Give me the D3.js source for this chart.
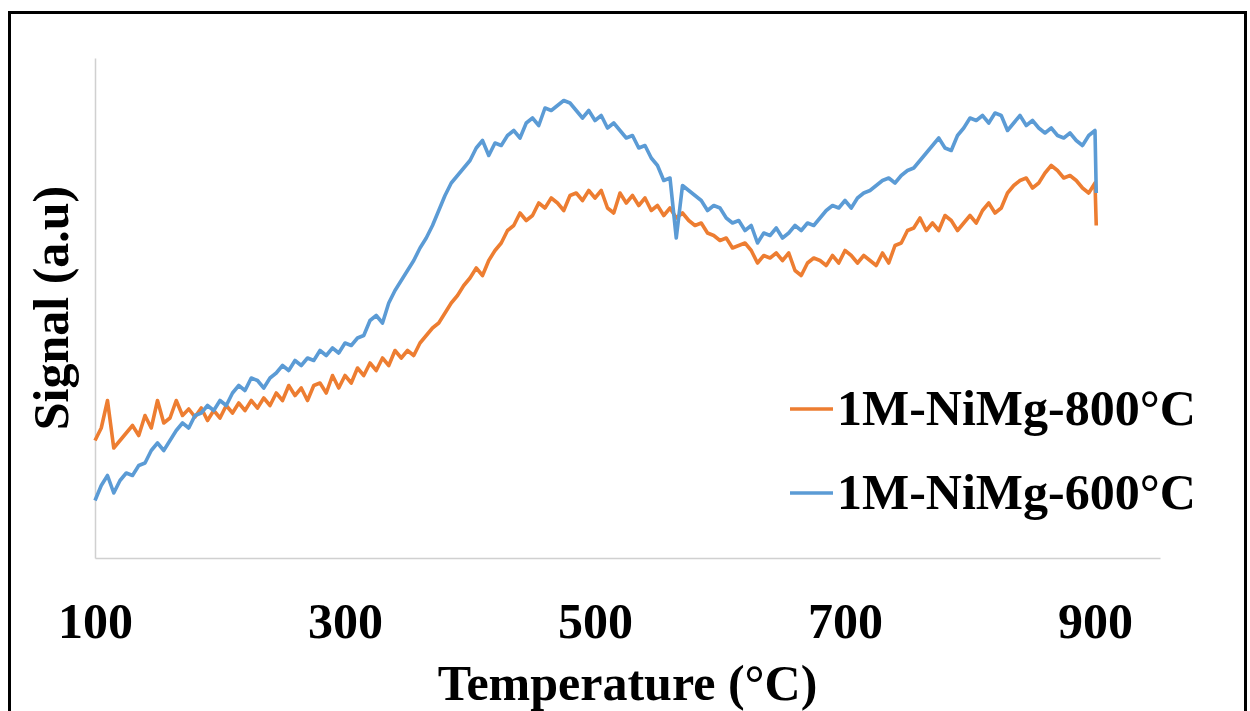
<!DOCTYPE html>
<html>
<head>
<meta charset="utf-8">
<script src="https://cdn.jsdelivr.net/npm/d3@7"></script>
<style>
  html, body { margin: 0; padding: 0; background: #fff; }
  svg { display: block; }
  text { font-family: "Liberation Serif", "Times New Roman", serif; font-weight: bold; fill: #000; }
</style>
</head>
<body>
<svg id="chart" width="1250" height="711"></svg>
<script>
// TPR profiles, signal in arbitrary units, sampled every 5 °C (last point is the end-of-run drop)
const temps = d3.range(100, 901, 5).concat([901]);

const signal800 = [
  23.5, 26.0, 31.5, 22.0, 23.5, 25.0, 26.5, 24.5, 28.5, 26.0,
  31.5, 27.0, 28.0, 31.5, 28.5, 29.8, 28.2, 30.0, 27.5, 29.5,
  28.0, 30.5, 29.0, 31.0, 29.5, 31.5, 30.0, 32.0, 30.5, 33.0,
  31.5, 34.5, 32.5, 34.0, 31.5, 34.5, 35.0, 33.0, 36.5, 34.0,
  36.5, 35.0, 38.0, 36.5, 39.0, 37.5, 40.0, 38.5, 41.5, 40.0,
  41.5, 40.5, 43.0, 44.5, 46.0, 47.0, 49.0, 51.0, 52.5, 54.5,
  56.0, 58.0, 56.5, 59.5, 61.5, 63.0, 65.5, 66.5, 69.0, 67.5,
  68.5, 71.0, 70.0, 72.0, 71.0, 69.5, 72.5, 73.0, 71.5, 73.5,
  72.0, 73.5, 70.0, 69.0, 73.0, 71.0, 72.5, 70.5, 72.0, 69.5,
  70.5, 68.5, 70.0, 68.0, 69.0, 67.5, 66.5, 67.0, 65.0, 64.5,
  63.5, 64.0, 62.0, 62.5, 63.0, 61.5, 59.0, 60.5, 60.0, 61.0,
  59.5, 61.0, 57.5, 56.5, 59.0, 60.0, 59.5, 58.5, 60.5, 59.0,
  61.5, 60.5, 59.0, 60.5, 59.5, 58.5, 61.0, 59.0, 62.5, 63.0,
  65.5, 66.0, 68.0, 65.5, 67.0, 65.5, 68.5, 67.5, 65.5, 67.0,
  68.5, 67.0, 69.5, 71.0, 69.0, 70.0, 73.0, 74.5, 75.5, 76.0,
  74.0, 75.0, 77.0, 78.5, 77.5, 76.0, 76.5, 75.5, 74.0, 73.0,
  75.0, 66.5
];

const signal600 = [
  11.5, 14.5, 16.5, 13.0, 15.5, 17.0, 16.5, 18.5, 19.0, 21.5,
  23.0, 21.5, 23.5, 25.5, 27.0, 26.0, 28.5, 29.0, 30.5, 29.5,
  31.5, 30.5, 33.0, 34.5, 33.5, 36.0, 35.5, 34.0, 36.0, 37.0,
  38.5, 37.5, 39.5, 38.5, 40.0, 39.5, 41.5, 40.5, 42.0, 41.0,
  43.0, 42.5, 44.0, 44.5, 47.5, 48.5, 47.0, 51.0, 53.5, 55.5,
  57.5, 59.5, 62.0, 64.0, 66.5, 69.5, 72.5, 75.0, 76.5, 78.0,
  79.5, 82.0, 83.5, 80.5, 83.0, 82.5, 84.5, 85.5, 84.0, 87.0,
  88.0, 86.5, 90.0, 89.5, 90.5, 91.5, 91.0, 89.5, 88.0, 89.5,
  87.5, 88.5, 86.0, 87.0, 85.5, 84.0, 84.5, 82.0, 82.5, 80.0,
  78.5, 75.5, 76.0, 64.0, 74.5, 73.5, 72.5, 71.5, 69.5, 70.5,
  70.0, 68.0, 67.0, 67.5, 65.5, 66.5, 63.0, 65.0, 64.5, 66.0,
  64.0, 65.0, 66.5, 65.5, 67.0, 66.5, 68.0, 69.5, 70.5, 70.0,
  71.5, 70.0, 72.0, 73.0, 73.5, 74.5, 75.5, 76.0, 75.0, 76.5,
  77.5, 78.0, 79.5, 81.0, 82.5, 84.0, 82.0, 81.5, 84.5, 86.0,
  88.0, 87.5, 88.5, 87.0, 89.0, 88.5, 85.5, 87.0, 88.5, 86.5,
  87.5, 86.0, 85.0, 86.0, 84.5, 84.0, 85.0, 83.5, 82.5, 84.5,
  85.5, 73.0
];

const seriesNames = ["1M-NiMg-800°C", "1M-NiMg-600°C"];
const seriesColors = ["#ED7D31", "#5B9BD5"];
const xTicks = [100, 300, 500, 700, 900];
const xTitle = "Temperature (°C)";
const yTitle = "Signal (a.u)";

const svg = d3.select("#chart");

// outer frame
svg.append("rect")
  .attr("x", 9.5).attr("y", 12.5)
  .attr("width", 1236).attr("height", 720)
  .attr("fill", "none").attr("stroke", "#000").attr("stroke-width", 3);

const x = d3.scaleLinear().domain([100, 952]).range([95, 1160]);
const y = d3.scaleLinear().domain([0, 100]).range([558, 58]);

// axes: plain light-grey lines, labels only on x
const xAxis = d3.axisBottom(x).tickValues(xTicks).tickSize(0).tickPadding(0).tickFormat(d3.format("d"));
const gx = svg.append("g").attr("transform", `translate(0,${y(0)})`).call(xAxis);
gx.select(".domain").attr("stroke", "#d0d0d0").attr("stroke-width", 1.5);
gx.selectAll(".tick text")
  .attr("y", 80).attr("dy", 0)
  .style("font-size", "50px")
  .style("font-family", "'Liberation Serif', 'Times New Roman', serif")
  .style("font-weight", "bold")
  .attr("fill", "#000");

const yAxis = d3.axisLeft(y).tickValues([]).tickSizeOuter(0);
const gy = svg.append("g").attr("transform", `translate(${x(100)},0)`).call(yAxis);
gy.select(".domain").attr("stroke", "#d0d0d0").attr("stroke-width", 1.5);

// series lines
const line = d3.line().x(d => x(d[0])).y(d => y(d[1]));
[signal800, signal600].forEach((vals, i) => {
  svg.append("path")
    .datum(temps.map((t, k) => [t, vals[k]]))
    .attr("d", line)
    .attr("fill", "none")
    .attr("stroke", seriesColors[i])
    .attr("stroke-width", 3.6)
    .attr("stroke-linejoin", "round");
});

// axis titles
svg.append("text")
  .attr("x", (x.range()[0] + x.range()[1]) / 2)
  .attr("y", 700)
  .attr("text-anchor", "middle")
  .style("font-size", "50px")
  .text(xTitle);

svg.append("text")
  .attr("transform", `translate(68,${(y.range()[0] + y.range()[1]) / 2}) rotate(-90)`)
  .attr("text-anchor", "middle")
  .style("font-size", "50px")
  .text(yTitle);

// legend
const legend = svg.append("g");
seriesNames.forEach((name, i) => {
  const cy = 409 + i * 84;
  legend.append("line")
    .attr("x1", 790).attr("x2", 833)
    .attr("y1", cy).attr("y2", cy)
    .attr("stroke", seriesColors[i]).attr("stroke-width", 3.6);
  legend.append("text")
    .attr("x", 837).attr("y", cy + 16)
    .style("font-size", "50px")
    .text(name);
});
</script>
</body>
</html>
